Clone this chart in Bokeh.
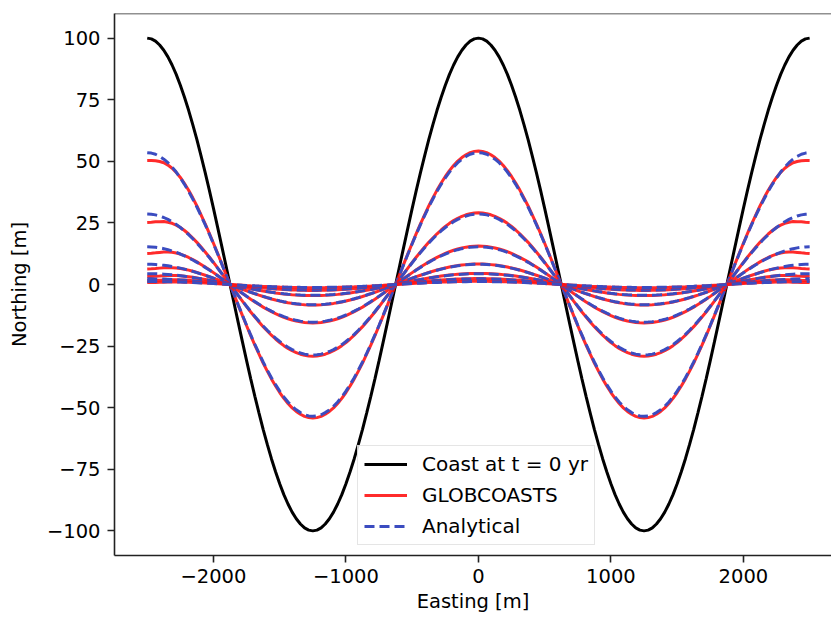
import numpy as np
from bokeh.plotting import figure
from bokeh.models import Range1d, FixedTicker, Span, Legend, LegendItem
from bokeh.embed import file_html
from bokeh.resources import INLINE

# Easting sample positions [m]
easting = [
    -2500, -2468.75, -2437.5, -2406.25, -2375, -2343.75, -2312.5, -2281.25,
    -2250, -2218.75, -2187.5, -2156.25, -2125, -2093.75, -2062.5, -2031.25,
    -2000, -1968.75, -1937.5, -1906.25, -1875, -1843.75, -1812.5, -1781.25,
    -1750, -1718.75, -1687.5, -1656.25, -1625, -1593.75, -1562.5, -1531.25,
    -1500, -1468.75, -1437.5, -1406.25, -1375, -1343.75, -1312.5, -1281.25,
    -1250, -1218.75, -1187.5, -1156.25, -1125, -1093.75, -1062.5, -1031.25,
    -1000, -968.75, -937.5, -906.25, -875, -843.75, -812.5, -781.25,
    -750, -718.75, -687.5, -656.25, -625, -593.75, -562.5, -531.25,
    -500, -468.75, -437.5, -406.25, -375, -343.75, -312.5, -281.25,
    -250, -218.75, -187.5, -156.25, -125, -93.75, -62.5, -31.25,
    0, 31.25, 62.5, 93.75, 125, 156.25, 187.5, 218.75,
    250, 281.25, 312.5, 343.75, 375, 406.25, 437.5, 468.75,
    500, 531.25, 562.5, 593.75, 625, 656.25, 687.5, 718.75,
    750, 781.25, 812.5, 843.75, 875, 906.25, 937.5, 968.75,
    1000, 1031.25, 1062.5, 1093.75, 1125, 1156.25, 1187.5, 1218.75,
    1250, 1281.25, 1312.5, 1343.75, 1375, 1406.25, 1437.5, 1468.75,
    1500, 1531.25, 1562.5, 1593.75, 1625, 1656.25, 1687.5, 1718.75,
    1750, 1781.25, 1812.5, 1843.75, 1875, 1906.25, 1937.5, 1968.75,
    2000, 2031.25, 2062.5, 2093.75, 2125, 2156.25, 2187.5, 2218.75,
    2250, 2281.25, 2312.5, 2343.75, 2375, 2406.25, 2437.5, 2468.75,
    2500]

# Coast at t = 0 yr, northing [m]
coast_t0 = [
    100, 99.7, 98.8, 97.2, 95.1, 92.4, 89.1, 85.3, 80.9, 76.0,
    70.7, 64.9, 58.8, 52.2, 45.4, 38.3, 30.9, 23.3, 15.6, 7.8,
    0, -7.8, -15.6, -23.3, -30.9, -38.3, -45.4, -52.2, -58.8, -64.9,
    -70.7, -76.0, -80.9, -85.3, -89.1, -92.4, -95.1, -97.2, -98.8, -99.7,
    -100, -99.7, -98.8, -97.2, -95.1, -92.4, -89.1, -85.3, -80.9, -76.0,
    -70.7, -64.9, -58.8, -52.2, -45.4, -38.3, -30.9, -23.3, -15.6, -7.8,
    0, 7.8, 15.6, 23.3, 30.9, 38.3, 45.4, 52.2, 58.8, 64.9,
    70.7, 76.0, 80.9, 85.3, 89.1, 92.4, 95.1, 97.2, 98.8, 99.7,
    100, 99.7, 98.8, 97.2, 95.1, 92.4, 89.1, 85.3, 80.9, 76.0,
    70.7, 64.9, 58.8, 52.2, 45.4, 38.3, 30.9, 23.3, 15.6, 7.8,
    0, -7.8, -15.6, -23.3, -30.9, -38.3, -45.4, -52.2, -58.8, -64.9,
    -70.7, -76.0, -80.9, -85.3, -89.1, -92.4, -95.1, -97.2, -98.8, -99.7,
    -100, -99.7, -98.8, -97.2, -95.1, -92.4, -89.1, -85.3, -80.9, -76.0,
    -70.7, -64.9, -58.8, -52.2, -45.4, -38.3, -30.9, -23.3, -15.6, -7.8,
    0, 7.8, 15.6, 23.3, 30.9, 38.3, 45.4, 52.2, 58.8, 64.9,
    70.7, 76.0, 80.9, 85.3, 89.1, 92.4, 95.1, 97.2, 98.8, 99.7,
    100]

# amplitudes of later coastlines [m]
analytical_amp = [53.5, 28.6, 15.3, 8.2, 4.4, 2.3, 1.2]
globcoasts_amp = [54.2, 29.1, 15.6, 8.3, 4.5, 2.4, 1.3]
globcoasts_edge = [50.3, 25.2, 12.6, 6.3, 3.2, 1.6, 0.8]
# how strongly the GLOBCOASTS boundary value pulls the first samples at each end
edge_blend = [1.0, 0.95, 0.85, 0.71, 0.55, 0.41, 0.28, 0.18, 0.1, 0.05, 0.02]

FONT = "DejaVu Sans"
FS = "19.5px"

x = np.array(easting, dtype=float)
shape = np.array(coast_t0, dtype=float) / 100.0
w = np.zeros(len(x))
w[:len(edge_blend)] = edge_blend
w[-len(edge_blend):] = edge_blend[::-1]

p = figure(width=831, height=619, output_backend="svg", toolbar_location=None,
           x_range=Range1d(-2747, 2665), y_range=Range1d(-110, 110),
           min_border_left=114, min_border_right=0, min_border_top=13, min_border_bottom=64)
p.outline_line_color = None
p.grid.visible = False

black = p.line(x, np.array(coast_t0, dtype=float), line_color="black", line_width=3)
red_r = None
blue_r = None
for a_an, a_gc, e_gc in zip(analytical_amp, globcoasts_amp, globcoasts_edge):
    red_y = a_gc * shape + w * (e_gc - a_gc)
    r = p.line(x, red_y, line_color="#ff1414", line_alpha=0.9, line_width=3)
    b = p.line(x, a_an * shape, line_color="#3b4cc0", line_width=3, line_dash="10 5")
    if red_r is None:
        red_r, blue_r = r, b

p.add_layout(Span(location=110, dimension="width", line_color="#222222", line_width=1.6))

xt = [-2000, -1000, 0, 1000, 2000]
yt = [-100, -75, -50, -25, 0, 25, 50, 75, 100]
p.xaxis.ticker = FixedTicker(ticks=xt)
p.yaxis.ticker = FixedTicker(ticks=yt)
p.xaxis.major_label_overrides = {t: str(t).replace("-", "\u2212") for t in xt}
p.yaxis.major_label_overrides = {t: str(t).replace("-", "\u2212") for t in yt}
p.xaxis.axis_label = "Easting [m]"
p.yaxis.axis_label = "Northing [m]"
for ax in (p.xaxis[0], p.yaxis[0]):
    ax.axis_line_color = "#222222"
    ax.axis_line_width = 1.6
    ax.major_tick_line_color = "#222222"
    ax.major_tick_line_width = 1.6
    ax.major_tick_out = 7
    ax.major_tick_in = 0
    ax.minor_tick_line_color = None
    ax.major_label_text_font = FONT
    ax.major_label_text_font_size = FS
    ax.major_label_text_color = "black"
    ax.axis_label_text_font = FONT
    ax.axis_label_text_font_size = FS
    ax.axis_label_text_font_style = "normal"
    ax.axis_label_text_color = "black"
p.xaxis.major_label_standoff = 6
p.xaxis.axis_label_standoff = 4
p.yaxis.major_label_standoff = 7
p.yaxis.axis_label_standoff = 13

legend = Legend(items=[LegendItem(label="Coast at t = 0 yr", renderers=[black]),
                       LegendItem(label="GLOBCOASTS", renderers=[red_r]),
                       LegendItem(label="Analytical", renderers=[blue_r])],
                location=(243, 10))
legend.margin = 0
legend.padding = 6
legend.spacing = 7
legend.glyph_width = 43
legend.glyph_height = 24
legend.label_height = 24
legend.label_standoff = 15
legend.label_text_font = FONT
legend.label_text_font_size = "20px"
legend.label_text_color = "black"
legend.border_line_color = "#cccccc"
legend.border_line_width = 1.5
legend.background_fill_alpha = 0.8
p.add_layout(legend)

open("out.html", "w").write(file_html(p, INLINE))
